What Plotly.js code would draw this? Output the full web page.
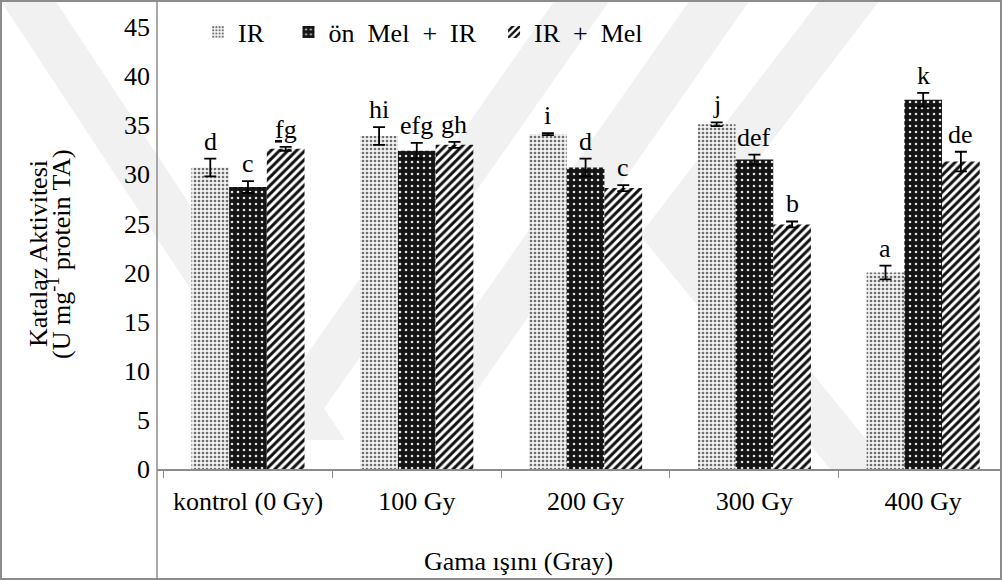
<!DOCTYPE html>
<html>
<head>
<meta charset="utf-8">
<script src="https://cdn.plot.ly/plotly-3.0.1.min.js"></script>
<style>
  html, body { margin: 0; padding: 0; background: #fff; }
  #wrap { position: relative; width: 1002px; height: 580px; }
  #chart { width: 1002px; height: 580px; }
  #frame { position: absolute; left: 0; top: 0; width: 1002px; height: 580px; box-sizing: border-box; border: 2px solid #8c8c8c; pointer-events: none; }
</style>
</head>
<body>
<div id="wrap"><div id="chart"></div><div id="frame"></div></div>
<script>
// ---- data ----
const categories = ["kontrol (0 Gy)", "100 Gy", "200 Gy", "300 Gy", "400 Gy"];
const seriesNames = ["IR", "ön Mel + IR", "IR + Mel"];
const irValues    = [30.7, 33.9, 34.1, 35.1, 20.0];
const irErrors    = [0.9, 0.9, 0.1, 0.2, 0.7];
const irLetters   = ["d", "hi", "i", "j", "a"];
const onMelValues = [28.7, 32.4, 30.7, 31.5, 37.6];
const onMelErrors = [0.6, 0.8, 0.9, 0.5, 0.7];
const onMelLetters= ["c", "efg", "d", "def", "k"];
const irMelValues = [32.6, 33.0, 28.6, 24.9, 31.3];
const irMelErrors = [0.2, 0.3, 0.3, 0.3, 1.0];
const irMelLetters= ["<u>fg</u>", "gh", "c", "b", "de"];
const yTickVals = [0, 5, 10, 15, 20, 25, 30, 35, 40, 45];
const yTitleLines = ["Katalaz Aktivitesi", "(U mg<sup>-1</sup> protein TA)"];
const xTitle = "Gama ışını (Gray)";

// ---- geometry helpers (pixel -> paper) ----
const L = 157, R = 1001, T = 27, B = 469;
const W = R - L, H = B - T;
const px = x => (x - L) / W;
const py = y => (B - y) / H;

const FONT = "Liberation Serif, Times New Roman, serif";
const FS = 26;
const bargap = 0.33;
const barW = (1 - bargap) / 3;

const patterns = [
  {shape: ".", bgcolor: "#f2f2f2", fgcolor: "#6e6e6e", size: 4, solidity: 0.36},
  {shape: ".", bgcolor: "#141414", fgcolor: "#e0e0e0", size: 6, solidity: 0.15},
  {shape: "/", bgcolor: "#ffffff", fgcolor: "#111111", size: 6, solidity: 0.5}
];
const values = [irValues, onMelValues, irMelValues];
const errors = [irErrors, onMelErrors, irMelErrors];
const letters = [irLetters, onMelLetters, irMelLetters];
// legend spacing: wide word spaces like the original
const legendPad = [3, 2, 0];
const legendNames = seriesNames.map((n, i) => n.replace(/ /g, "\u00a0 ") + "\u00a0".repeat(legendPad[i]));

const traces = seriesNames.map((name, i) => ({
  type: "bar",
  name: legendNames[i],
  x: categories,
  y: values[i],
  marker: {color: patterns[i].bgcolor, line: {width: 0}, pattern: patterns[i]},
  error_y: {type: "data", array: errors[i], visible: true, color: "#000", thickness: 1.8, width: 6},
  hoverinfo: "skip"
}));

const annotations = [];
for (let s = 0; s < 3; s++) {
  for (let c = 0; c < categories.length; c++) {
    annotations.push({
      x: c + (s - 1) * barW, y: values[s][c] + errors[s][c],
      xref: "x", yref: "y",
      text: letters[s][c], showarrow: false,
      yanchor: "bottom", yshift: 1,
      font: {family: FONT, size: FS, color: "#000"}
    });
  }
}
annotations.push({
  xref: "paper", yref: "paper", x: px(39), y: py(254),
  text: yTitleLines[0], textangle: -90, showarrow: false, xanchor: "center", yanchor: "middle",
  font: {family: FONT, size: FS, color: "#000"}
});
annotations.push({
  xref: "paper", yref: "paper", x: px(60), y: py(254),
  text: yTitleLines[1], textangle: -90, showarrow: false, xanchor: "center", yanchor: "middle",
  font: {family: FONT, size: FS, color: "#000"}
});
annotations.push({
  xref: "paper", yref: "paper", x: px(518), y: py(561),
  text: xTitle, showarrow: false, xanchor: "center", yanchor: "middle",
  font: {family: FONT, size: FS, color: "#000"}
});

function poly(pts) {
  return "M" + pts.map(p => px(p[0]).toFixed(4) + "," + py(p[1]).toFixed(4)).join(" L") + " Z";
}
const wmColor = "#f1f1f1";
const wm = [
  [[0, 0], [55, 0], [345, 440], [290, 440]],
  [[555, 0], [610, 0], [302, 440], [247, 440]],
  [[690, 0], [750, 0], [442, 440], [382, 440]],
  [[820, 0], [880, 0], [700, 235], [890, 469], [830, 469], [640, 235]]
];
const shapes = wm.map(p => ({type: "path", xref: "paper", yref: "paper", layer: "below",
  line: {width: 0}, fillcolor: wmColor, path: poly(p)}));
shapes.push({type: "line", xref: "paper", yref: "paper", x0: 0, x1: 0, y0: py(580), y1: py(0),
  line: {color: "#8c8c8c", width: 1.5}});

const layout = {
  width: 1002, height: 580,
  margin: {l: L, r: 1002 - R, t: T, b: 580 - B, pad: 0},
  paper_bgcolor: "#ffffff",
  plot_bgcolor: "rgba(0,0,0,0)",
  barmode: "group",
  bargap: bargap,
  bargroupgap: 0,
  showlegend: true,
  legend: {
    orientation: "h", x: px(198), xanchor: "left", y: py(32), yanchor: "middle",
    font: {family: FONT, size: FS, color: "#000"},
    bgcolor: "rgba(0,0,0,0)", itemwidth: 30, traceorder: "normal"
  },
  xaxis: {
    type: "category", range: [-0.539, 4.461],
    showline: true, linecolor: "#8c8c8c", linewidth: 1.5,
    ticks: "outside", tickson: "boundaries", ticklen: 7, tickcolor: "#8c8c8c", tickwidth: 1,
    showgrid: false, zeroline: false, ticklabelstandoff: 8,
    tickfont: {family: FONT, size: FS, color: "#000"}
  },
  yaxis: {
    range: [0, 45], tickvals: yTickVals, ticktext: yTickVals.map(String),
    showline: false, ticks: "", showgrid: false, zeroline: false,
    ticklabelstandoff: 6,
    tickfont: {family: FONT, size: FS, color: "#000"}
  },
  annotations: annotations,
  shapes: shapes,
  font: {family: FONT, size: FS, color: "#000"}
};

Plotly.newPlot("chart", traces, layout, {displayModeBar: false, staticPlot: true});
</script>
</body>
</html>
